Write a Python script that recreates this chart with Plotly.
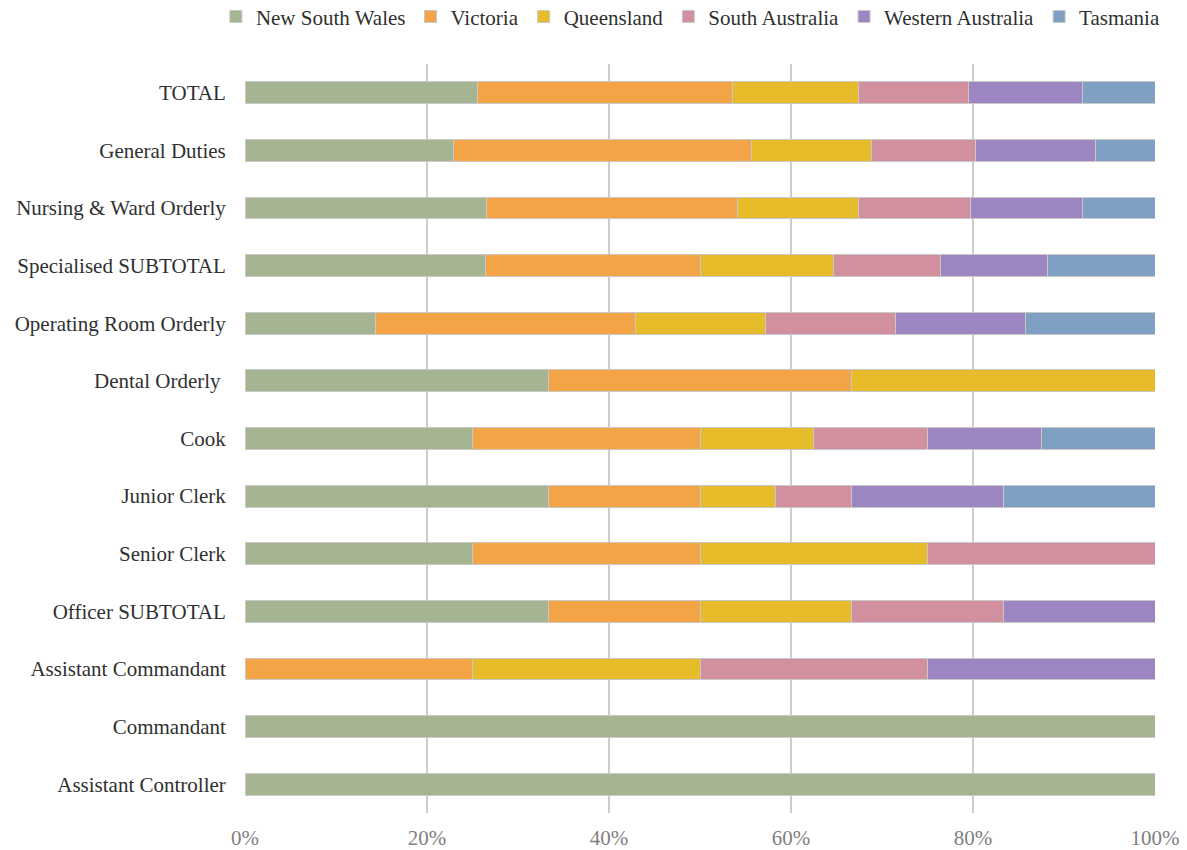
import plotly.graph_objects as go

categories = ["Assistant Controller", "Commandant", "Assistant Commandant", "Officer SUBTOTAL",
              "Senior Clerk", "Junior Clerk", "Cook", "Dental Orderly ", "Operating Room Orderly",
              "Specialised SUBTOTAL", "Nursing & Ward Orderly", "General Duties", "TOTAL"]

states = ["New South Wales", "Victoria", "Queensland", "South Australia", "Western Australia", "Tasmania"]
colors = ["#a5b592", "#f3a447", "#e6bc2a", "#d2909f", "#9c85c0", "#7f9fc3"]

nsw = [100, 100, 0, 33.33, 25, 33.33, 25, 33.33, 14.29, 26.47, 26.5, 22.9, 25.5]
vic = [0, 0, 25, 16.67, 25, 16.67, 25, 33.33, 28.57, 23.53, 27.6, 32.8, 28.1]
qld = [0, 0, 25, 16.67, 25, 8.33, 12.5, 33.34, 14.29, 14.71, 13.3, 13.1, 13.8]
sa = [0, 0, 25, 16.67, 25, 8.33, 12.5, 0, 14.29, 11.76, 12.3, 11.5, 12.1]
wa = [0, 0, 25, 16.66, 0, 16.67, 12.5, 0, 14.28, 11.76, 12.3, 13.2, 12.5]
tas = [0, 0, 0, 0, 0, 16.67, 12.5, 0, 14.28, 11.77, 8.0, 6.5, 8.0]

series = [nsw, vic, qld, sa, wa, tas]

FONT = "Liberation Serif"
TXT = "#303030"

fig = go.Figure()
for name, vals, col in zip(states, series, colors):
    fig.add_trace(go.Bar(
        y=categories, x=vals, name=name, orientation="h",
        marker=dict(color=col, line=dict(color="#c8c8c8", width=1)),
    ))

fig.update_layout(
    barmode="stack",
    width=1187, height=850,
    margin=dict(l=245, r=32, t=64, b=37, autoexpand=False),
    paper_bgcolor="white", plot_bgcolor="white",
    bargap=0.62,
    font=dict(family=FONT, size=21, color=TXT),
    legend=dict(orientation="h", x=-0.032, xanchor="left", y=1.063, yanchor="middle",
                font=dict(family=FONT, size=21, color=TXT),
                itemwidth=30, traceorder="normal", tracegroupgap=0),
    xaxis=dict(range=[0, 100], tickvals=[0, 20, 40, 60, 80, 100],
               ticktext=["0%", "20%", "40%", "60%", "80%", "100%"],
               showgrid=True, gridcolor="#cccccc", gridwidth=2,
               zeroline=False, showline=False,
               tickfont=dict(family=FONT, size=21, color="#808080"),
               ticks="outside", ticklen=6, tickcolor="white"),
    yaxis=dict(categoryorder="array", categoryarray=categories,
               showgrid=False, zeroline=False, showline=False,
               tickfont=dict(family=FONT, size=21, color=TXT),
               ticks="outside", ticklen=14, tickcolor="white"),
)

fig.write_html("out.html")
